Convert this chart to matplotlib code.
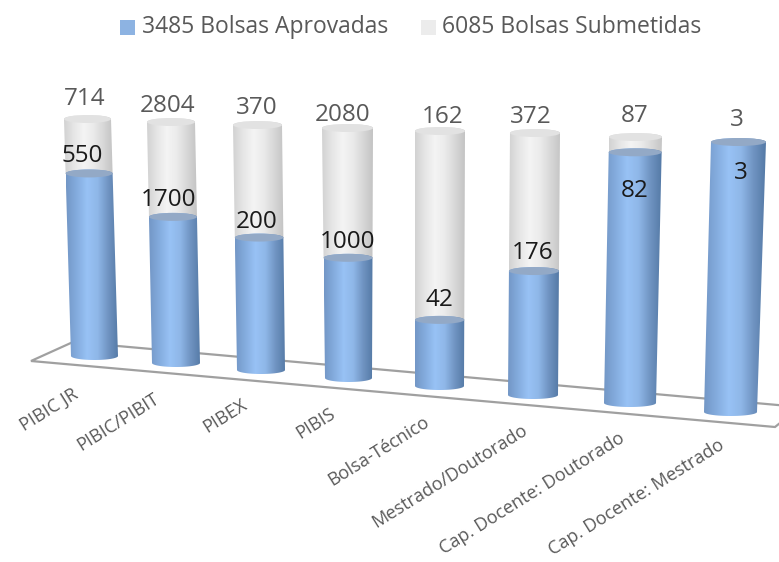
import numpy as np
import matplotlib
matplotlib.use("Agg")
import matplotlib.pyplot as plt
from matplotlib.colors import LinearSegmentedColormap
from matplotlib.patches import PathPatch, Polygon, Rectangle, Ellipse
from matplotlib.path import Path

plt.rcParams["font.family"] = ["Open Sans", "DejaVu Sans"]

categories = ["PIBIC JR", "PIBIC/PIBIT", "PIBEX", "PIBIS", "Bolsa-Técnico",
              "Mestrado/Doutorado", "Cap. Docente: Doutorado", "Cap. Docente: Mestrado"]
aprovadas = [550, 1700, 200, 1000, 42, 176, 82, 3]
submetidas = [714, 2804, 370, 2080, 162, 372, 87, 3]
legend_labels = ["3485 Bolsas Aprovadas", "6085 Bolsas Submetidas"]

# perspective layout of the cylinders, pixels
top_left = [64, 147, 233, 322, 415, 510, 609, 711]
top_right = [111, 195, 282, 373, 465, 560, 662, 766]
low_left = [71, 152, 237, 325, 415, 508, 604, 704]
low_right = [118, 200, 285, 372, 464, 558, 656, 757]
top_y = [115, 118, 121, 124, 127, 129, 133, 138]
low_y = [360, 367, 374, 382, 390, 399, 407, 416]
total_xy = [(85, 99), (168, 106), (257, 108), (343, 115), (443, 117), (531, 117), (635, 116), (737, 120)]
aprov_dx = [-7, -4, -2, 0, 0, -1, 0, 2]
aprov_dy = [-17, -17, -16, -16, -20, -18, 39, 31]
label_xy = [(72, 385), (153, 390), (241, 396), (329, 405), (423, 413), (521, 421), (618, 429), (718, 436)]

blue_cmap = LinearSegmentedColormap.from_list("blue", ["#7397c6", "#84acde", "#98c2f5", "#8fb7e8", "#7094c2", "#557aa6"])
grey_cmap = LinearSegmentedColormap.from_list("grey", ["#d2d2d2", "#e6e6e6", "#f4f4f4", "#ebebeb", "#d8d8d8", "#c4c4c4"])
gradient = np.linspace(0, 1, 128).reshape(1, -1)

fig = plt.figure(figsize=(7.79, 5.62), dpi=100)
ax = fig.add_axes([0, 0, 1, 1])


def segment(xl0, xr0, xl1, xr1, y0, y1, ry, cmap, cap):
    # cylinder piece between ellipse centres y0 (top) and y1 (bottom)
    t = np.linspace(np.pi, 0, 30)
    top_x = (xl0 + xr0) / 2 + (xr0 - xl0) / 2 * np.cos(t)
    top_yy = y0 - ry * np.sin(t)
    low_x = (xl1 + xr1) / 2 + (xr1 - xl1) / 2 * np.cos(t[::-1])
    low_yy = y1 + ry * np.sin(t[::-1])
    pts = np.column_stack([np.r_[top_x, low_x], np.r_[top_yy, low_yy]])
    patch = PathPatch(Path(pts, closed=False), facecolor="none", edgecolor="none")
    ax.add_patch(patch)
    im = ax.imshow(gradient, cmap=cmap, aspect="auto", interpolation="bilinear",
                   extent=[min(xl0, xl1), max(xr0, xr1), y1 + ry, y0 - ry], zorder=2)
    im.set_clip_path(patch)
    ax.add_patch(Ellipse(((xl0 + xr0) / 2, y0), xr0 - xl0, 2 * ry, facecolor=cap, edgecolor="none", zorder=3))


# floor of the 3D plot
ax.add_patch(Polygon([(31, 361), (73, 342), (800, 407), (775, 427)], closed=True,
                     facecolor="white", edgecolor="#a0a0a0", linewidth=1.6, zorder=1))

for i in range(len(categories)):
    ry = 4
    y0 = top_y[i] + ry
    y1 = low_y[i] - ry
    share = aprovadas[i] / submetidas[i]
    ym = y1 - share * (y1 - y0)
    f = (ym - y0) / (y1 - y0)
    xlm = top_left[i] + f * (low_left[i] - top_left[i])
    xrm = top_right[i] + f * (low_right[i] - top_right[i])
    if share < 1:
        segment(top_left[i], top_right[i], xlm, xrm, y0, ym, ry, grey_cmap, "#e2e2e2")
    segment(xlm, xrm, low_left[i], low_right[i], ym, y1, ry, blue_cmap, "#93a9c6")

    cx = (xlm + xrm) / 2
    ax.text(cx + aprov_dx[i], ym + aprov_dy[i], str(aprovadas[i]), ha="center", va="center",
            fontsize=17.5, color="#1a1a1a", zorder=5)
    ax.text(total_xy[i][0], total_xy[i][1], str(submetidas[i]), ha="center", va="center",
            fontsize=17.5, color="#595959", zorder=5)
    ax.text(label_xy[i][0], label_xy[i][1], categories[i], ha="right", va="top", rotation=32,
            rotation_mode="anchor", fontsize=13.1, color="#595959")

# legend
ax.add_patch(Rectangle((120, 20), 15, 15, facecolor="#8db3e2", edgecolor="none"))
ax.add_patch(Rectangle((421, 20), 15, 15, facecolor="#ececec", edgecolor="none"))
ax.text(142, 27, legend_labels[0], ha="left", va="center", fontsize=16.5, color="#595959")
ax.text(442, 27, legend_labels[1], ha="left", va="center", fontsize=16.5, color="#595959")

ax.set_xlim(0, 779)
ax.set_ylim(562, 0)
ax.axis("off")
fig.savefig("out.png", dpi=100, facecolor="white")
